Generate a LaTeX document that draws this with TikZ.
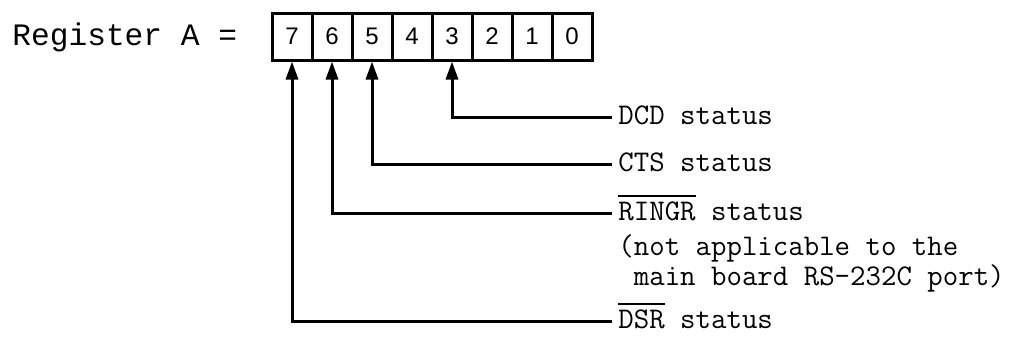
\documentclass[tikz,border=0pt]{standalone}
\usepackage{fontspec}
\usetikzlibrary{arrows.meta}
\newfontfamily\regfont{Liberation Mono}
\newfontfamily\digfont{Liberation Sans}
\newcommand\ovl[1]{\leavevmode\vbox{\hrule height 0.7pt\kern 2.6pt\hbox{#1}}}
\begin{document}
\begin{tikzpicture}[x=0.5pt,y=-0.5pt,
  cell/.style={draw,line width=1.5pt,minimum width=20pt,minimum height=23.5pt,inner sep=0pt,
    font=\digfont\fontsize{12}{14}\selectfont},
  lab/.style={anchor=west,inner sep=0pt,text height=7.6pt,text depth=0pt,
    font=\ttfamily\fontsize{15}{18}\selectfont},
  conn/.style={line width=1.5pt,-{Triangle[length=9pt,width=6pt]}}]
\useasboundingbox (0,0) rectangle (1012,338);
\node[anchor=base west,inner sep=0pt,font=\regfont\fontsize{15.6}{18}\selectfont] (reg) at (12,45) {Register A =};
\foreach \b [count=\i from 0] in {7,6,5,4,3,2,1,0}
  \node[cell] (c\b) at (292+40*\i,36.5) {\b};
\node[lab] (l3) at (618,117) {DCD status};
\node[lab] (l5) at (618,164) {CTS status};
\node[lab] (l6) at (618,213) {\ovl{RINGR} status};
\node[lab] (n1) at (618,248) {(not applicable to the};
\node[lab] (n2) at (618,278) {\ main board RS-232C port)};
\node[lab] (l7) at (618,321) {\ovl{DSR} status};
\draw[conn] ([xshift=-3pt]l3.west) -| (c3.south);
\draw[conn] ([xshift=-3pt]l5.west) -| (c5.south);
\draw[conn] ([xshift=-3pt]l6.west) -| (c6.south);
\draw[conn] ([xshift=-3pt]l7.west) -| (c7.south);
\end{tikzpicture}
\end{document}
